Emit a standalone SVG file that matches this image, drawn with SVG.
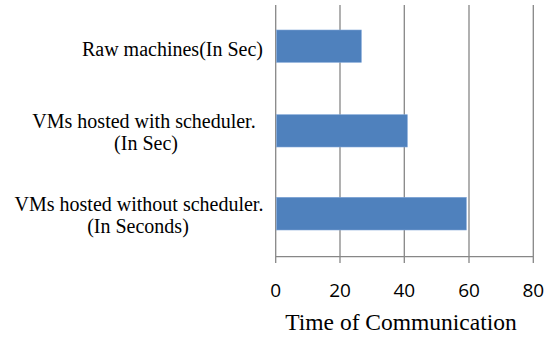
<svg xmlns="http://www.w3.org/2000/svg" width="545" height="338" viewBox="0 0 545 338">
<style>
.grid{stroke:#878787;stroke-width:1.3;fill:none}
.bar{fill:#4F81BD;stroke:#7FA6D8;stroke-width:0.6}
.lbl{font-family:"Liberation Serif","Times New Roman",serif;font-size:20px;fill:#000}
.tick{font-family:"Open Sans","Liberation Sans",sans-serif;font-size:19px;fill:#000;text-anchor:middle}
.title{font-family:"Liberation Serif","Times New Roman",serif;font-size:23.5px;fill:#000;text-anchor:middle}
</style>
<rect width="545" height="338" fill="#fff"/>
<g id="gridlines">
<path class="grid" d="M275.7 5V263M340 5V263M404.3 5V263M469 5V263M533.3 5V263M275.7 256.7H533.3"/>
</g>
<g id="bar-raw">
<rect class="bar" x="276.5" y="30" width="84.8" height="32.3"/>
<text class="lbl" x="263" y="56" text-anchor="end">Raw machines(In Sec)</text>
</g>
<g id="bar-with">
<rect class="bar" x="276.5" y="114.7" width="130.8" height="32.3"/>
<text class="lbl" x="144" y="128" text-anchor="middle">VMs hosted with scheduler.</text>
<text class="lbl" x="146" y="150" text-anchor="middle">(In Sec)</text>
</g>
<g id="bar-without">
<rect class="bar" x="276.5" y="197.3" width="189.8" height="32.7"/>
<text class="lbl" x="139" y="211" text-anchor="middle">VMs hosted without scheduler.</text>
<text class="lbl" x="138" y="233" text-anchor="middle">(In Seconds)</text>
</g>
<g id="axis-labels">
<text class="tick" x="275.7" y="296.7">0</text>
<text class="tick" x="340" y="296.7">20</text>
<text class="tick" x="404.3" y="296.7">40</text>
<text class="tick" x="469" y="296.7">60</text>
<text class="tick" x="533.3" y="296.7">80</text>
<text class="title" x="401" y="330">Time of Communication</text>
</g>
</svg>
